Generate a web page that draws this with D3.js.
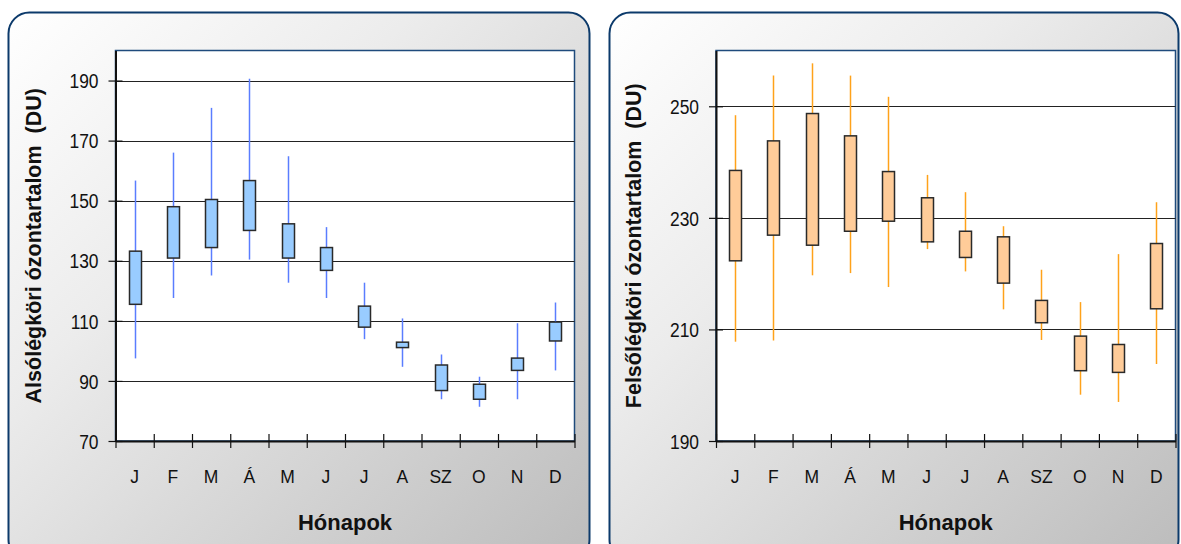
<!DOCTYPE html>
<html>
<head>
<meta charset="utf-8">
<script src="https://cdn.jsdelivr.net/npm/d3@7"></script>
<style>
  html, body { margin: 0; padding: 0; background: #ffffff; }
  svg { display: block; }
  svg text { font-family: "Liberation Sans", Arial, sans-serif; }
</style>
</head>
<body>
<svg id="chart" width="1181" height="544"></svg>
<script>
// Monthly ozone statistics (Dobson units): whisker ends and box edges.
const months = ["J", "F", "M", "Á", "M", "J", "J", "A", "SZ", "O", "N", "D"];

// Lower atmosphere (troposphere)
const lowerMin = [97.5, 117.6, 125.1, 130.4, 122.7, 117.6, 103.9, 94.7, 83.9, 81.4, 83.9, 93.5];
const lowerQ1  = [115.5, 130.9, 134.4, 140.1, 130.9, 126.8, 107.9, 101.1, 86.8, 83.9, 93.5, 103.3];
const lowerQ3  = [133.2, 148.0, 150.4, 156.7, 142.3, 134.4, 114.9, 102.9, 95.3, 88.9, 97.6, 109.6];
const lowerMax = [156.7, 166.0, 180.9, 190.6, 164.8, 141.2, 122.7, 110.8, 98.8, 91.4, 109.2, 116.1];
const lowerTicks = [70, 90, 110, 130, 150, 170, 190];

// Upper atmosphere (stratosphere)
const upperMin = [207.8, 208.0, 219.7, 220.1, 217.6, 224.4, 220.4, 213.6, 208.1, 198.3, 197.0, 203.8];
const upperQ1  = [222.3, 226.9, 225.1, 227.6, 229.4, 225.7, 222.9, 218.3, 211.2, 202.6, 202.3, 213.7];
const upperQ3  = [238.5, 243.8, 248.7, 244.7, 238.3, 233.6, 227.6, 226.6, 215.2, 208.8, 207.3, 225.4];
const upperMax = [248.4, 255.5, 257.7, 255.5, 251.7, 237.7, 234.6, 228.5, 220.7, 214.9, 223.5, 232.8];
const upperTicks = [190, 210, 230, 250];

const FONT = '"Liberation Sans", Arial, sans-serif';
const svg = d3.select("#chart");

const defs = svg.append("defs");
const grad = defs.append("linearGradient")
  .attr("id", "panelFill")
  .attr("x1", 0).attr("y1", 0).attr("x2", 1).attr("y2", 1);
grad.append("stop").attr("offset", "0%").attr("stop-color", "#ffffff");
grad.append("stop").attr("offset", "35%").attr("stop-color", "#ececec");
grad.append("stop").attr("offset", "100%").attr("stop-color", "#bcbcbc");

function drawPanel(cfg) {
  const g = svg.append("g");

  // Rounded frame with gradient background
  g.append("rect")
    .attr("x", cfg.panel.x).attr("y", cfg.panel.y)
    .attr("width", cfg.panel.w).attr("height", cfg.panel.h)
    .attr("rx", 21).attr("ry", 21)
    .attr("fill", "url(#panelFill)")
    .attr("stroke", "#0c3a6b").attr("stroke-width", 2);

  const p = cfg.plot;
  // Plot area
  g.append("rect")
    .attr("x", p.x0).attr("y", p.y0)
    .attr("width", p.x1 - p.x0).attr("height", p.y1 - p.y0)
    .attr("fill", "#ffffff")
    .attr("stroke", "#1f4b7c").attr("stroke-width", 1.5);

  const y = d3.scaleLinear().domain(cfg.domain).range([p.y1, p.y0]);
  const xBand = d3.scaleBand().domain(d3.range(months.length)).range([p.x0, p.x1]);
  const xEdge = d3.scaleLinear().domain([0, months.length]).range([p.x0, p.x1]);

  // Horizontal gridlines
  g.append("g").selectAll("line")
    .data(cfg.ticks.filter(t => t !== cfg.domain[0]))
    .join("line")
    .attr("x1", p.x0).attr("x2", p.x1)
    .attr("y1", d => Math.round(y(d)) + 0.5).attr("y2", d => Math.round(y(d)) + 0.5)
    .attr("stroke", "#222").attr("stroke-width", 1.2);

  // Whiskers
  const idx = d3.range(months.length);
  const cx = i => Math.round(xBand(i) + xBand.bandwidth() / 2) + 0.5;
  g.append("g").selectAll("line")
    .data(idx)
    .join("line")
    .attr("x1", cx).attr("x2", cx)
    .attr("y1", i => y(cfg.max[i])).attr("y2", i => y(cfg.min[i]))
    .attr("stroke", cfg.whisker).attr("stroke-width", 1.5);

  // Boxes
  const bw = 12;
  g.append("g").selectAll("rect")
    .data(idx)
    .join("rect")
    .attr("x", i => cx(i) - bw / 2)
    .attr("y", i => y(cfg.q3[i]))
    .attr("width", bw)
    .attr("height", i => y(cfg.q1[i]) - y(cfg.q3[i]))
    .attr("fill", cfg.fill)
    .attr("stroke", "#2a2a2a").attr("stroke-width", 1.5);

  // Y axis
  const yAxis = g.append("g")
    .attr("transform", `translate(${p.x0},0)`)
    .call(d3.axisLeft(y).tickValues(cfg.ticks).tickSize(0).tickSizeOuter(0));
  yAxis.attr("font-family", FONT);
  yAxis.select(".domain").attr("stroke", "#111").attr("stroke-width", 2);
  yAxis.selectAll(".tick line").attr("x1", -7).attr("x2", 7)
    .attr("stroke", "#111").attr("stroke-width", 1.2);
  yAxis.selectAll(".tick text")
    .attr("x", -17 / 0.87).attr("dy", "0.36em")
    .attr("transform", "scale(0.87,1)")
    .attr("fill", "#111")
    .style("font-family", FONT)
    .style("font-size", "20px");

  // X axis: tick marks on month boundaries
  const xTicks = g.append("g")
    .attr("transform", `translate(0,${p.y1})`)
    .call(d3.axisBottom(xEdge).tickValues(d3.range(months.length + 1)).tickSize(0).tickSizeOuter(0).tickFormat(""));
  xTicks.select(".domain").attr("stroke", "#111").attr("stroke-width", 2);
  xTicks.selectAll(".tick line").attr("y1", -7).attr("y2", 7)
    .attr("stroke", "#111").attr("stroke-width", 1.2);

  // X axis: month labels centred in each band
  const xLabels = g.append("g")
    .attr("transform", `translate(0,${p.y1})`)
    .call(d3.axisBottom(xBand).tickSize(0).tickFormat(i => months[i]));
  xLabels.attr("font-family", FONT);
  xLabels.select(".domain").remove();
  xLabels.selectAll(".tick text")
    .attr("y", 42).attr("dy", 0)
    .attr("fill", "#111")
    .style("font-family", FONT)
    .style("font-size", "17.5px");

  // Axis titles
  g.append("text")
    .attr("transform", `translate(${cfg.yTitleX},${(p.y0 + p.y1) / 2}) rotate(-90)`)
    .attr("text-anchor", "middle")
    .style("font-size", "21.5px").style("font-weight", "bold")
    .attr("fill", "#111")
    .attr("xml:space", "preserve")
    .text(cfg.yTitle);

  g.append("text")
    .attr("x", (p.x0 + p.x1) / 2).attr("y", 530)
    .attr("text-anchor", "middle")
    .style("font-size", "22px").style("font-weight", "bold")
    .attr("fill", "#111")
    .text("Hónapok");
}

drawPanel({
  panel: { x: 8.5, y: 12.5, w: 581, h: 548 },
  plot: { x0: 115.5, x1: 574.5, y0: 50.5, y1: 441 },
  domain: [70, 200],
  ticks: lowerTicks,
  min: lowerMin, q1: lowerQ1, q3: lowerQ3, max: lowerMax,
  fill: "#99ccff", whisker: "#5a7dff",
  yTitle: "Alsólégköri ózontartalom  (DU)", yTitleX: 41
});

drawPanel({
  panel: { x: 609.5, y: 12.5, w: 569, h: 548 },
  plot: { x0: 716, x1: 1175.5, y0: 50.5, y1: 441 },
  domain: [190, 260],
  ticks: upperTicks,
  min: upperMin, q1: upperQ1, q3: upperQ3, max: upperMax,
  fill: "#ffcc99", whisker: "#ffa21a",
  yTitle: "Felsőlégköri ózontartalom  (DU)", yTitleX: 641
});
</script>
</body>
</html>
